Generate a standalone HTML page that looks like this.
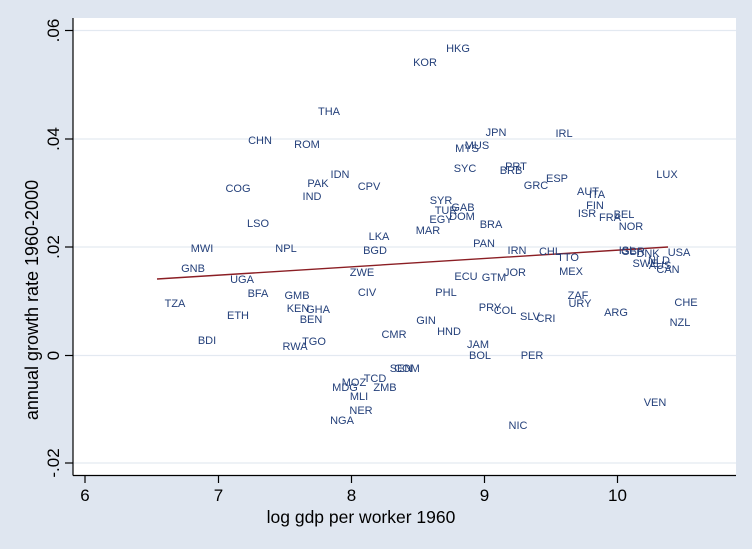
<!DOCTYPE html>
<html><head><meta charset="utf-8"><style>
html,body{margin:0;padding:0;background:#dfe6f0;}
svg{display:block;font-family:"Liberation Sans",Arial,sans-serif;}
.c{font-size:11px;fill:#24407a;text-anchor:middle;dominant-baseline:central;}
</style></head><body>
<svg width="752" height="549" viewBox="0 0 752 549">
<rect x="0" y="0" width="752" height="549" fill="#dfe6f0"/>
<rect x="73" y="18" width="663" height="457" fill="#ffffff"/>
<g stroke="#e3e9f1" stroke-width="1.3">
<line x1="73" x2="736" y1="30.5" y2="30.5"/>
<line x1="73" x2="736" y1="139" y2="139"/>
<line x1="73" x2="736" y1="247" y2="247"/>
<line x1="73" x2="736" y1="355.5" y2="355.5"/>
<line x1="73" x2="736" y1="463" y2="463"/>
</g>
<g stroke="#000" stroke-width="1.2">
<line x1="73" y1="18" x2="73" y2="475.5"/>
<line x1="73" y1="475.5" x2="736" y2="475.5"/>
<line x1="65" x2="73" y1="30.5" y2="30.5"/>
<line x1="65" x2="73" y1="139" y2="139"/>
<line x1="65" x2="73" y1="247" y2="247"/>
<line x1="65" x2="73" y1="355.5" y2="355.5"/>
<line x1="65" x2="73" y1="463" y2="463"/>
<line x1="85" x2="85" y1="475.5" y2="483"/>
<line x1="218.5" x2="218.5" y1="475.5" y2="483"/>
<line x1="351.5" x2="351.5" y1="475.5" y2="483"/>
<line x1="484.5" x2="484.5" y1="475.5" y2="483"/>
<line x1="617.5" x2="617.5" y1="475.5" y2="483"/>
</g>
<g font-size="17" fill="#000" text-anchor="middle">
<text x="85" y="501">6</text>
<text x="218.5" y="501">7</text>
<text x="351.5" y="501">8</text>
<text x="484.5" y="501">9</text>
<text x="617.5" y="501">10</text>
<text x="361" y="523" font-size="17.5">log gdp per worker 1960</text>
<text transform="translate(59,30.5) rotate(-90)">.06</text>
<text transform="translate(59,139) rotate(-90)">.04</text>
<text transform="translate(59,247) rotate(-90)">.02</text>
<text transform="translate(59,355.5) rotate(-90)">0</text>
<text transform="translate(59,463) rotate(-90)">-.02</text>
<text transform="translate(38,300) rotate(-90)" font-size="18">annual growth rate 1960-2000</text>
</g>
<line x1="157" y1="279" x2="668" y2="247" stroke="#8b1e24" stroke-width="1.4"/>
<g class="c">
<text x="458" y="49">HKG</text><text x="425" y="63">KOR</text><text x="329" y="112">THA</text>
<text x="260" y="141">CHN</text><text x="307" y="145">ROM</text><text x="496" y="133">JPN</text>
<text x="564" y="134">IRL</text><text x="477" y="146">MUS</text><text x="467" y="149">MYS</text>
<text x="465" y="169">SYC</text><text x="516" y="167">PRT</text><text x="511" y="171">BRB</text>
<text x="340" y="175">IDN</text><text x="557" y="179">ESP</text><text x="667" y="175">LUX</text>
<text x="318" y="184">PAK</text><text x="369" y="187">CPV</text><text x="536" y="186">GRC</text>
<text x="238" y="189">COG</text><text x="312" y="197">IND</text><text x="588" y="192">AUT</text>
<text x="597" y="195">ITA</text><text x="441" y="201">SYR</text><text x="463" y="208">GAB</text>
<text x="595" y="206">FIN</text><text x="446" y="211">TUR</text><text x="462" y="217">DOM</text>
<text x="441" y="220">EGY</text><text x="587" y="214">ISR</text><text x="610" y="218">FRA</text>
<text x="624" y="215">BEL</text><text x="258" y="224">LSO</text><text x="631" y="227">NOR</text>
<text x="491" y="225">BRA</text><text x="428" y="231">MAR</text><text x="379" y="237">LKA</text>
<text x="484" y="244">PAN</text><text x="375" y="251">BGD</text><text x="202" y="249">MWI</text>
<text x="286" y="249">NPL</text><text x="517" y="251">IRN</text><text x="550" y="252">CHL</text>
<text x="627" y="251">ISL</text><text x="633" y="252">GBR</text><text x="648" y="254">DNK</text>
<text x="679" y="253">USA</text><text x="568" y="258">TTO</text><text x="659" y="261">NLD</text>
<text x="645" y="264">SWE</text><text x="660" y="266">AUS</text><text x="668" y="270">CAN</text>
<text x="193" y="269">GNB</text><text x="362" y="273">ZWE</text><text x="571" y="272">MEX</text>
<text x="466" y="277">ECU</text><text x="494" y="278">GTM</text><text x="515" y="273">JOR</text>
<text x="242" y="280">UGA</text><text x="258" y="294">BFA</text><text x="297" y="296">GMB</text>
<text x="367" y="293">CIV</text><text x="446" y="293">PHL</text><text x="578" y="296">ZAF</text>
<text x="580" y="304">URY</text><text x="686" y="303">CHE</text><text x="175" y="304">TZA</text>
<text x="298" y="309">KEN</text><text x="318" y="310">GHA</text><text x="490" y="308">PRY</text>
<text x="505" y="311">COL</text><text x="530" y="317">SLV</text><text x="546" y="319">CRI</text>
<text x="616" y="313">ARG</text><text x="238" y="316">ETH</text><text x="311" y="320">BEN</text>
<text x="426" y="321">GIN</text><text x="680" y="323">NZL</text><text x="449" y="332">HND</text>
<text x="394" y="335">CMR</text><text x="207" y="341">BDI</text><text x="314" y="342">TGO</text>
<text x="295" y="347">RWA</text><text x="478" y="345">JAM</text><text x="480" y="356">BOL</text>
<text x="532" y="356">PER</text><text x="401" y="369">SEN</text><text x="407" y="369">COM</text>
<text x="375" y="379">TCD</text><text x="354" y="383">MOZ</text><text x="385" y="388">ZMB</text>
<text x="345" y="388">MDG</text><text x="359" y="397">MLI</text><text x="655" y="403">VEN</text>
<text x="361" y="411">NER</text><text x="342" y="421">NGA</text><text x="518" y="426">NIC</text>
</g>
</svg>
</body></html>
